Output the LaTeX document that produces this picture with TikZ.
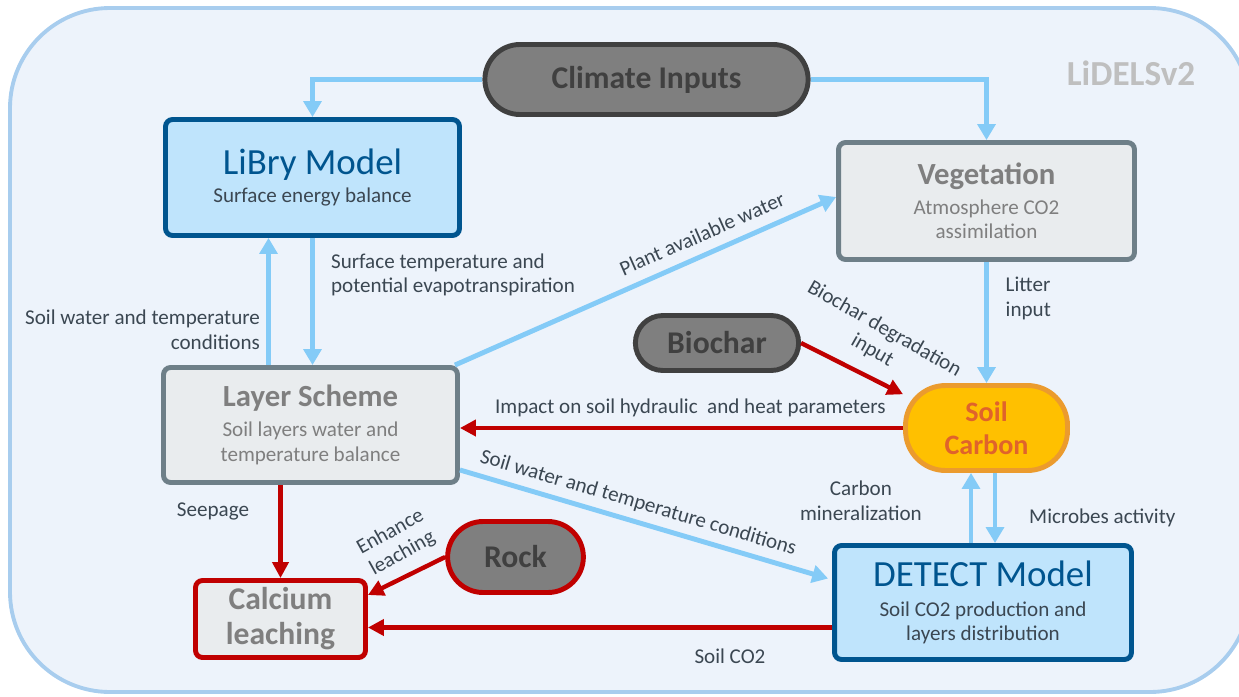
\documentclass[tikz,border=0pt]{standalone}
\usepackage{fontspec}
\setmainfont{Carlito}
\usetikzlibrary{arrows.meta,shapes.misc}

\definecolor{framefill}{HTML}{EDF3FB}
\definecolor{frameline}{HTML}{A8CDEE}
\definecolor{arrowblue}{HTML}{84CBF7}
\definecolor{darkred}{HTML}{C00000}
\definecolor{pillgray}{HTML}{7F7F7F}
\definecolor{pilldark}{HTML}{404040}
\definecolor{boxgray}{HTML}{E9ECEE}
\definecolor{boxline}{HTML}{6E7F88}
\definecolor{textgray}{HTML}{7F7F7F}
\definecolor{labeltext}{HTML}{3B4752}
\definecolor{modelfill}{HTML}{BFE4FC}
\definecolor{modelline}{HTML}{00558F}
\definecolor{carbonfill}{HTML}{FFC000}
\definecolor{carbonline}{HTML}{EB9B2E}
\definecolor{carbontext}{HTML}{E0632B}
\definecolor{lidels}{HTML}{BFBFBF}

\begin{document}
\begin{tikzpicture}[x=0.02cm, y=-0.02cm,
	frame/.style={draw=frameline, fill=framefill, line width=2.2pt, rounded corners=2cm},
	pill/.style={rounded rectangle, draw=pilldark, fill=pillgray, line width=2.8pt, text=pilldark, font=\bfseries\fontsize{18}{20}\selectfont},
	model/.style={draw=modelline, fill=modelfill, line width=2.8pt, rounded corners=4pt, align=center, text=labeltext, font=\fontsize{12}{14}\selectfont},
	module/.style={draw=boxline, fill=boxgray, line width=2.8pt, rounded corners=4pt, align=center, text=textgray, font=\fontsize{12}{14}\selectfont},
	flow/.style={draw=arrowblue, line width=2.8pt, -{Triangle[length=9pt,width=10pt]}},
	link/.style={draw=darkred, line width=2.5pt, -{Triangle[length=9pt,width=9pt]}},
	lbl/.style={text=labeltext, font=\fontsize{12}{14}\selectfont, inner sep=1pt}]
	\useasboundingbox (0,0) rectangle (1239,696);
	\draw[frame] (10,8) rectangle (1250,692);
	\node[text=lidels, font=\bfseries\fontsize{20}{22}\selectfont] (title) at (1131,73) {LiDELSv2};

	% nodes
	\node[pill, minimum width=6.7cm, minimum height=1.4cm] (climate) at (646.5,79.5) {Climate Inputs};
	\node[model, minimum width=5.88cm, minimum height=2.32cm] (libry) at (312.5,177.5)
		{{\color{modelline}\fontsize{21}{25}\selectfont LiBry Model}\\[2pt]Surface energy balance};
	\node[module, minimum width=5.92cm, minimum height=2.34cm] (veg) at (986.5,201)
		{{\bfseries\fontsize{17.5}{21}\selectfont Vegetation}\\[3pt]Atmosphere CO2\\assimilation};
	\node[module, minimum width=5.88cm, minimum height=2.3cm] (layer) at (310.5,425)
		{{\bfseries\fontsize{17.5}{21}\selectfont Layer Scheme}\\[3pt]Soil layers water and\\temperature balance};
	\node[pill, minimum width=3.5cm, minimum height=1.1cm] (biochar) at (717,343) {Biochar};
	\node[draw=carbonline, fill=carbonfill, line width=2.8pt, rounded corners=0.8cm,
		minimum width=3.24cm, minimum height=1.7cm, align=center, text=carbontext,
		font=\bfseries\fontsize{16}{19}\selectfont] (soilc) at (986.5,428) {Soil\\Carbon};
	\node[pill, draw=darkred, minimum width=2.95cm, minimum height=1.42cm] (rock) at (515.5,557) {Rock};
	\node[module, draw=darkred, minimum width=3.4cm, minimum height=1.54cm,
		font=\bfseries\fontsize{18}{20}\selectfont] (calcium) at (280.5,619) {Calcium\\leaching};
	\node[model, minimum width=5.94cm, minimum height=2.28cm] (detect) at (983,602.5)
		{{\color{modelline}\fontsize{21}{25}\selectfont DETECT Model}\\[3pt]Soil CO2 production and\\layers distribution};

	% blue flows
	\draw[flow] (climate.west) -| (libry.north);
	\draw[flow] (climate.east) -| (veg.north);
	\draw[flow] ([xshift=-0.88cm]libry.south |- layer.north) -- ([xshift=-0.88cm]libry.south);
	\draw[flow] (libry.south) -- (libry.south |- layer.north);
	\node[lbl, anchor=west, align=left] (surf) at (329,275) {Surface temperature and\\potential evapotranspiration};
	\node[lbl, anchor=east, align=right] (soilw) at (262,330) {Soil water and temperature\\conditions};
	\draw[flow] ([xshift=-0.1cm]layer.north east) -- ([yshift=0.08cm]veg.west)
		node[lbl, sloped, above=5pt, pos=0.67] {Plant available water};
	\draw[flow] (veg.south) -- (soilc.north)
		node[lbl, right=0.3cm, pos=0.3, align=left] {Litter\\input};
	\draw[flow] ([yshift=-0.9cm]layer.east) -- ([yshift=0.48cm,xshift=-0.08cm]detect.west)
		node[lbl, sloped, above=3pt, pos=0.47] {Soil water and temperature conditions};
	\draw[flow] ([xshift=-0.24cm]detect.north) -- ([xshift=-0.24cm]detect.north |- soilc.south)
		node[lbl, left=0.9cm, pos=0.6, align=center] {Carbon\\mineralization};
	\draw[flow] ([xshift=0.24cm]detect.north |- soilc.south) -- ([xshift=0.24cm]detect.north)
		node[lbl, right=0.6cm, pos=0.64] {Microbes activity};

	% red links
	\draw[link] (biochar.east) -- (soilc.158)
		node[lbl, sloped, above=7pt, pos=0.58, align=center, rotate=-3] {Biochar degradation\\input};
	\draw[link] (soilc.west) -- (soilc.west -| layer.east)
		node[lbl, above=4pt, pos=0.48] {Impact on soil hydraulic\ \ and heat parameters};
	\draw[link] (layer.south -| calcium.north) -- (calcium.north)
		node[lbl, left=0.55cm, pos=0.28] {Seepage};
	\draw[link] (rock.west) -- ([yshift=0.48cm]calcium.east)
		node[lbl, sloped, above=5pt, pos=0.42, align=center, rotate=3] {Enhance\\leaching};
	\draw[link] ([yshift=-0.5cm]detect.west) -- ([yshift=-0.5cm]detect.west -| calcium.east)
		node[lbl, below=0.35cm, pos=0.22] {Soil CO2};
\end{tikzpicture}
\end{document}
